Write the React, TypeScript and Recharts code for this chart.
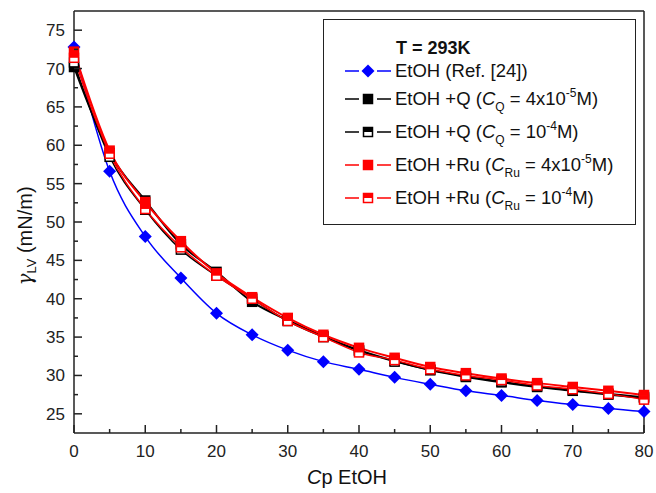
import React from "react";
import { Legend, Line, LineChart, ReferenceLine, XAxis, YAxis } from "recharts";

const concentration = [0, 5, 10, 15, 20, 25, 30, 35, 40, 45, 50, 55, 60, 65, 70, 75, 80];
const etohRef = [72.8, 56.6, 48.1, 42.7, 38.1, 35.3, 33.3, 31.8, 30.8, 29.75, 28.85, 28.0, 27.4, 26.75, 26.2, 25.7, 25.3];
const etohQ4e5 = [70.2, 59.0, 52.8, 47.1, 43.5, 39.6, 37.2, 35.1, 33.3, 31.9, 30.7, 29.8, 29.1, 28.5, 28.0, 27.5, 27.1];
const etohQ1e4 = [70.8, 58.5, 51.6, 46.4, 43.0, 40.0, 37.1, 35.0, 33.2, 31.8, 30.7, 29.9, 29.2, 28.6, 28.1, 27.6, 27.2];
const etohRu4e5 = [72.2, 59.3, 52.6, 47.5, 43.3, 40.2, 37.5, 35.3, 33.6, 32.3, 31.1, 30.3, 29.6, 29.0, 28.5, 28.0, 27.45];
const etohRu1e4 = [71.4, 58.9, 51.7, 46.7, 43.0, 40.0, 37.1, 35.0, 33.0, 32.0, 30.8, 30.0, 29.4, 28.7, 28.2, 27.6, 26.85];

const xTicks = [0, 5, 10, 15, 20, 25, 30, 35, 40, 45, 50, 55, 60, 65, 70, 75, 80];
const yTicks = [25, 27.5, 30, 32.5, 35, 37.5, 40, 42.5, 45, 47.5, 50, 52.5, 55, 57.5, 60, 62.5, 65, 67.5, 70, 72.5, 75];

const data = concentration.map((c, i) => ({
  c,
  ref: etohRef[i],
  q1: etohQ4e5[i],
  q2: etohQ1e4[i],
  ru1: etohRu4e5[i],
  ru2: etohRu1e4[i],
}));

const FONT = '"Liberation Sans", Arial, sans-serif';
const AXIS = "#222";

function Marker({ cx, cy, kind, color }: { cx: number; cy: number; kind: string; color: string }) {
  if (kind === "diamond") {
    const r = 6.5;
    return <path d={`M${cx},${cy - r}L${cx + r},${cy}L${cx},${cy + r}L${cx - r},${cy}Z`} fill={color} />;
  }
  const s = 4.5;
  if (kind === "half") {
    return (
      <g>
        <rect x={cx - s} y={cy - s} width={s * 2} height={s * 2} fill="#fff" stroke={color} strokeWidth={1.5} />
        <rect x={cx - s} y={cy - s} width={s * 2} height={s} fill={color} />
      </g>
    );
  }
  return <rect x={cx - s} y={cy - s} width={s * 2} height={s * 2} fill={color} stroke={color} strokeWidth={1.5} />;
}

const dotFor = (kind: string, color: string) => (p: any) =>
  <Marker key={`${kind}-${color}-${p.index}`} cx={p.cx} cy={p.cy} kind={kind} color={color} />;

function XTick(props: any) {
  const { x, y, payload } = props;
  const major = payload.value % 10 === 0;
  const axisY = y - 4;
  return (
    <g>
      <line x1={x} x2={x} y1={axisY} y2={axisY - (major ? 8 : 4)} stroke={AXIS} strokeWidth={1.5} />
      {major && (
        <text x={x} y={axisY + 24} textAnchor="middle" fontSize={17} fontFamily={FONT} fill="#222">
          {payload.value}
        </text>
      )}
    </g>
  );
}

function YTick(props: any) {
  const { x, y, payload } = props;
  const major = payload.value % 5 === 0;
  const axisX = x + 9;
  return (
    <g>
      <line x1={axisX} x2={axisX + (major ? 8 : 4)} y1={y} y2={y} stroke={AXIS} strokeWidth={1.5} />
      {major && (
        <text x={x} y={y + 6} textAnchor="end" fontSize={17} fontFamily={FONT} fill="#222">
          {payload.value}
        </text>
      )}
    </g>
  );
}

const sub = (t: string) => (
  <span style={{ fontSize: 12, position: "relative", top: 6 }}>{t}</span>
);
const sup = (t: string) => (
  <span style={{ fontSize: 12, position: "relative", top: -8 }}>{t}</span>
);

const legendRows = [
  { kind: "diamond", color: "#0000ff", label: <>EtOH (Ref. [24])</> },
  { kind: "square", color: "#000", label: <>EtOH +Q (<i>C</i>{sub("Q")} = 4x10{sup("-5")}M)</> },
  { kind: "half", color: "#000", label: <>EtOH +Q (<i>C</i>{sub("Q")} = 10{sup("-4")}M)</> },
  { kind: "square", color: "#ff0000", label: <>EtOH +Ru (<i>C</i>{sub("Ru")} = 4x10{sup("-5")}M)</> },
  { kind: "half", color: "#ff0000", label: <>EtOH +Ru (<i>C</i>{sub("Ru")} = 10{sup("-4")}M)</> },
];
const rowTops = [51, 79, 112, 145, 178];

function LegendBox() {
  return (
    <div
      style={{
        position: "relative",
        width: 313,
        height: 206,
        boxSizing: "border-box",
        border: `1.5px solid ${AXIS}`,
        background: "#fff",
        fontFamily: FONT,
        fontSize: 18.5,
        color: "#111",
      }}
    >
      <div style={{ position: "absolute", left: 72, top: 17, fontWeight: "bold", fontSize: 18, lineHeight: "22px" }}>
        T = 293K
      </div>
      {legendRows.map((r, i) => (
        <div key={i} style={{ position: "absolute", left: 0, top: rowTops[i] - 11, height: 22, width: 305 }}>
          <svg width={46} height={22} style={{ position: "absolute", left: 21, top: 0 }}>
            <line x1={0} x2={46} y1={11} y2={11} stroke={r.color} strokeWidth={1.5} />
            <rect x={14} y={3} width={18} height={16} fill="#fff" />
            <Marker cx={23} cy={11} kind={r.kind} color={r.color} />
          </svg>
          <div style={{ position: "absolute", left: 71, top: 0, lineHeight: "22px", whiteSpace: "nowrap" }}>
            {r.label}
          </div>
        </div>
      ))}
    </div>
  );
}

export default function App() {
  return (
    <div style={{ position: "absolute", left: 0, top: 0, width: 656, height: 493, background: "#fff" }}>
      <LineChart width={656} height={493} data={data} margin={{ top: 11, right: 12, bottom: 0, left: 0 }}>
        <XAxis
          type="number"
          dataKey="c"
          domain={[0, 80]}
          ticks={xTicks}
          interval={0}
          tickSize={0}
          tickMargin={4}
          height={60}
          stroke={AXIS}
          strokeWidth={1.5}
          tick={<XTick />}
          label={{
            content: () => (
              <text x={347} y={484} textAnchor="middle" fontSize={20} fontFamily={FONT} fill="#111">
                <tspan fontStyle="italic">C</tspan>
                <tspan>p EtOH</tspan>
              </text>
            ),
          }}
        />
        <YAxis
          type="number"
          domain={[22.5, 77.5]}
          ticks={yTicks}
          interval={0}
          tickSize={0}
          tickMargin={9}
          width={74}
          stroke={AXIS}
          strokeWidth={1.5}
          tick={<YTick />}
          label={{
            content: () => (
              <text
                x={32}
                y={236}
                transform="rotate(-90 32 236)"
                textAnchor="middle"
                fontSize={20}
                fontFamily={FONT}
                fill="#111"
              >
                <tspan fontStyle="italic" fontFamily='"DejaVu Serif", serif' fontSize={20}>γ</tspan>
                <tspan fontSize={13} dy={4}>LV</tspan>
                <tspan dy={-4}> (mN/m)</tspan>
              </text>
            ),
          }}
        />
        <ReferenceLine y={77.5} stroke={AXIS} strokeWidth={1.5} />
        <ReferenceLine x={80} stroke={AXIS} strokeWidth={1.5} />
        <Line type="monotone" dataKey="ref" stroke="#0000ff" strokeWidth={1.5} dot={dotFor("diamond", "#0000ff")} isAnimationActive={false} />
        <Line type="monotone" dataKey="q1" stroke="#000" strokeWidth={2} dot={dotFor("square", "#000")} isAnimationActive={false} />
        <Line type="monotone" dataKey="q2" stroke="#000" strokeWidth={1.5} dot={dotFor("half", "#000")} isAnimationActive={false} />
        <Line type="monotone" dataKey="ru1" stroke="#ff0000" strokeWidth={2} dot={dotFor("square", "#ff0000")} isAnimationActive={false} />
        <Line type="monotone" dataKey="ru2" stroke="#ff0000" strokeWidth={1.5} dot={dotFor("half", "#ff0000")} isAnimationActive={false} />
        <Legend
          layout="horizontal"
          verticalAlign="middle"
          align="center"
          wrapperStyle={{ left: 323, top: 19, width: 313, height: 206 }}
          content={() => <LegendBox />}
        />
      </LineChart>
    </div>
  );
}
